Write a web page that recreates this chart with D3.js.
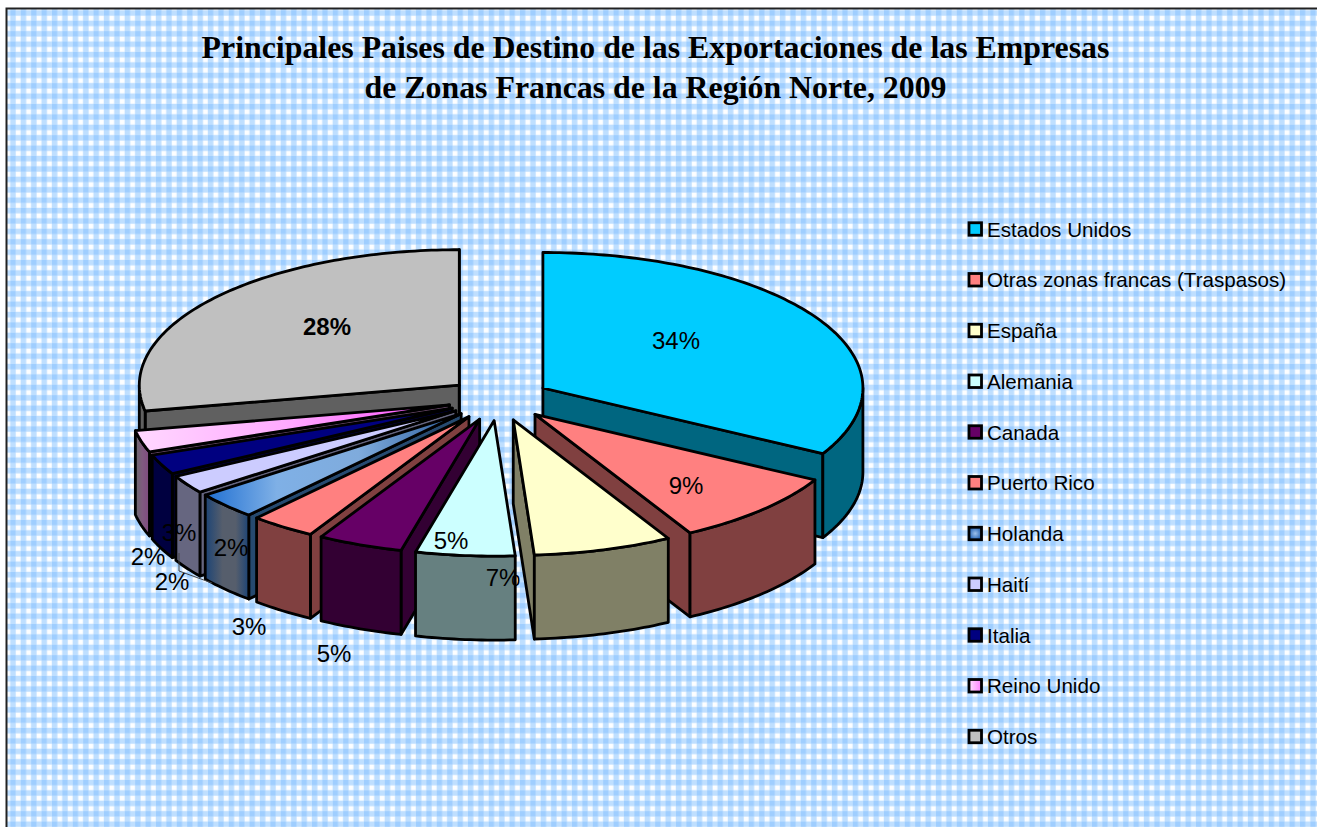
<!DOCTYPE html>
<html><head><meta charset="utf-8">
<script src="https://cdn.jsdelivr.net/npm/d3@7/dist/d3.min.js"></script>
<style>html,body{margin:0;padding:0;background:#fff}svg{display:block}</style></head>
<body><svg id="c" width="1317" height="827"></svg>
<script>
const titleLines = ["Principales Paises de Destino de las Exportaciones de las Empresas","de Zonas Francas de la Región Norte, 2009"];
const categories = ["Estados Unidos","Otras zonas francas (Traspasos)","España","Alemania","Canada","Puerto Rico","Holanda","Haití","Italia","Reino Unido","Otros"];
const values = [33.05,8.9,7.0,5.0,4.3,3.3,3.2,2.2,2.4,2.6,28.05];
const valueLabels = ["34%","9%","7%","5%","5%","3%","2%","2%","3%","2%","28%"];
const topColors = ["#00CCFF","#FF8080","#FFFFCC","#CCFFFF","#660066","#FF8080","url(#gHolTop)","#CCCCFF","#000080","url(#gReiTop)","#C0C0C0"];
const sideColors = ["#006680","#804040","#808066","#668080","#330033","#804040","#264a70","#666680","#000040","#6a4a6a","#606060"];
const rimColors = ["#006680","#804040","#808066","#668080","#330033","#804040","url(#gHolRim)","#666680","#000040","url(#gReiRim)","#606060"];
const swatchColors = ["#00CCFF","#FF8080","#FFFFCC","#CCFFFF","#660066","#FF8080","url(#gHolSw)","#CCCCFF","#000080","url(#gReiSw)","#C0C0C0"];

const W=1317,H=827;
const cx=498.8, cy=399, rx=320, ry=135.5, depth=84, explode=0.16;
const drawOrder=[10,0,9,1,8,7,6,5,4,2,3];
const labelPos=[[676,340],[686,485],[503,577],[451,540],[334,653],[249,626],[231,547],[172,581],[179,532],[148,556],[327,326]];

const svg=d3.select("#c");
const defs=svg.append("defs");
function lin(id,stops){const g=defs.append("linearGradient").attr("id",id);
  stops.forEach(s=>g.append("stop").attr("offset",s[0]).attr("stop-color",s[1]));}
lin("gHolTop",[[0,"#1f6fd2"],[.28,"#7fb0e6"],[.6,"#7fabdc"],[1,"#2a5c9c"]]);
lin("gHolRim",[[0,"#1c4476"],[.4,"#565e6c"],[.7,"#565e6c"],[1,"#1c4476"]]);
lin("gReiTop",[[0,"#ffd8ff"],[.5,"#ffa8ff"],[.85,"#ff66ff"],[1,"#aa22aa"]]);
lin("gReiRim",[[0,"#6a6a6a"],[.5,"#805a80"],[1,"#804a80"]]);
const hs=defs.append("radialGradient").attr("id","gHolSw");
hs.append("stop").attr("offset",0).attr("stop-color","#9cc0ea");hs.append("stop").attr("offset",1).attr("stop-color","#2a68b8");
lin("gReiSw",[[0,"#ffe0ff"],[1,"#ff80ff"]]);

// background fabric
const tile=10.4;
const pat=defs.append("pattern").attr("id","bgP").attr("patternUnits","userSpaceOnUse").attr("width",tile).attr("height",tile);
pat.append("rect").attr("width",tile).attr("height",tile).attr("fill","#bfdfff");
pat.append("rect").attr("width",tile/2).attr("height",tile/2).attr("fill","#9fceff");
pat.append("rect").attr("x",tile/2+.2).attr("y",tile/2+.2).attr("width",tile/2-.4).attr("height",tile/2-.4).attr("fill","#fdfeff");

svg.append("rect").attr("x",6).attr("y",8).attr("width",W-6).attr("height",H-8).attr("fill","url(#bgP)");
svg.append("path").attr("d",`M6.5 ${H}V8.5H${W}`).attr("fill","none").attr("stroke","#222").attr("stroke-width",2);

// title
svg.append("g").selectAll("text").data(titleLines).join("text")
  .attr("x",655.5).attr("y",(d,i)=>58+i*40).attr("text-anchor","middle")
  .attr("font-family","'Liberation Serif'").attr("font-weight","bold").attr("font-size",31.85).attr("fill","#000").text(d=>d);

// pie
const px=d3.scaleLinear().domain([-1,1]).range([cx-rx,cx+rx]);
const py=d3.scaleLinear().domain([-1,1]).range([cy-ry,cy+ry]);
const arcs=d3.pie().sort(null).value(d=>d).startAngle(0).endAngle(2*Math.PI)(values);
const line=d3.line();
const HALF=Math.PI/2, STEP=Math.PI/180;
function geo(a){
  const mid=(a.startAngle+a.endAngle)/2;
  const ox=explode*Math.sin(mid), oy=-explode*Math.cos(mid);
  const P=t=>[px(ox+Math.sin(t)),py(oy-Math.cos(t))];
  const O=[px(ox),py(oy)];
  return {P,O};
}
function sweep(P,s,e){const n=Math.max(2,Math.ceil((e-s)/STEP)+1);
  return d3.range(n).map(i=>P(s+(e-s)*i/(n-1)));}
const drop=p=>[p[0],p[1]+depth];
const stroke=g=>g.attr("stroke","#000").attr("stroke-width",2.8).attr("stroke-linejoin","round");
const pieG=svg.append("g");
drawOrder.forEach(i=>{
  const a=arcs[i],{P,O}=geo(a),g=pieG.append("g").call(stroke);
  const s=a.startAngle,e=a.endAngle;
  const wall=t=>{const r=P(t);g.append("path").attr("d",line([O,r,drop(r),drop(O)])+"Z").attr("fill",sideColors[i]);};
  if(Math.sin(s)<0) wall(s);
  if(Math.sin(e)>0) wall(e);
  const rs=Math.max(s,HALF),re=Math.min(e,3*HALF);
  if(re>rs){const top=sweep(P,rs,re);
    g.append("path").attr("d",line(top.concat(top.map(drop).reverse()))+"Z").attr("fill",rimColors[i]);}
  g.append("path").attr("d",line([O].concat(sweep(P,s,e)))+"Z").attr("fill",topColors[i]);
});

// leader line
svg.append("path").attr("d",line([[179,553],[179,571],[212,583]])).attr("fill","none").attr("stroke","#444").attr("stroke-width",1);

// value labels
svg.append("g").selectAll("text").data(valueLabels).join("text")
  .attr("x",(d,i)=>labelPos[i][0]).attr("y",(d,i)=>labelPos[i][1]+8.5).attr("text-anchor","middle")
  .attr("font-family","'Liberation Sans'").attr("font-size",24).attr("fill","#000")
  .attr("font-weight",(d,i)=>i===10?"bold":"normal").text(d=>d);

// legend
const ly=d3.scalePoint().domain(categories).range([229,736.5]);
const lg=svg.append("g").selectAll("g").data(categories).join("g").attr("transform",d=>`translate(968,${ly(d)})`);
lg.append("rect").attr("x",1).attr("y",-6.25).attr("width",12.5).attr("height",12.5).attr("stroke","#000").attr("stroke-width",2.8).attr("fill",(d,i)=>swatchColors[i]);
lg.append("text").attr("x",19).attr("y",7.5).attr("font-family","'Liberation Sans'").attr("font-size",20.6).attr("fill","#000").text(d=>d);
</script></body></html>
